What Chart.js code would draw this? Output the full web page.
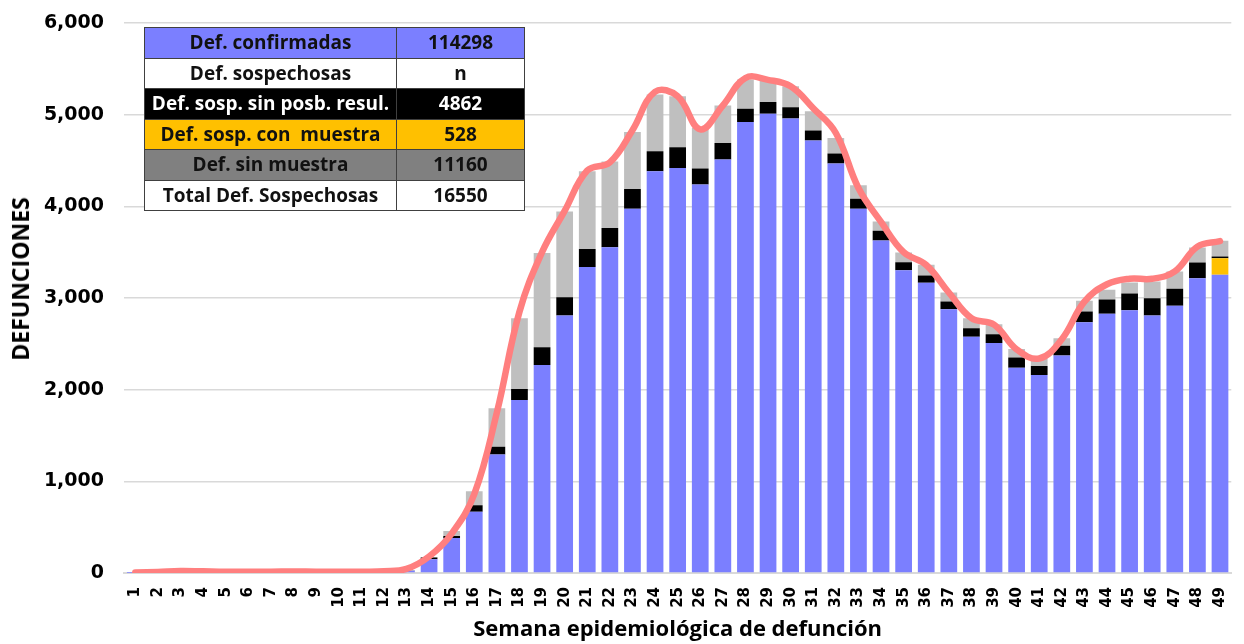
<!DOCTYPE html>
<html><head><meta charset="utf-8">
<script src="https://cdn.jsdelivr.net/npm/chart.js@4.4.0/dist/chart.umd.min.js"></script>
<style>
html,body{margin:0;padding:0;background:#fff;overflow:hidden}
#wrap{position:relative;width:1244px;height:644px}
#c{position:absolute;left:0;top:0}
#ytitle{position:absolute;left:20px;top:279px;transform:translate(-50%,-50%) rotate(-90deg);font-family:"Open Sans";font-weight:700;font-size:23px;white-space:nowrap;color:#000}
#tbl{position:absolute;left:144px;top:27px;border-collapse:collapse;font-family:"Open Sans";font-weight:700;font-size:19px;color:#111}
#tbl td{border:1px solid #404040;height:29.5px;padding:0;text-align:center;line-height:19px;white-space:nowrap}
</style>
</head><body>
<div id="wrap">
<canvas id="c" width="1244" height="644"></canvas>
<div id="ytitle">DEFUNCIONES</div>
<table id="tbl"></table>
</div>
<script>
const weeks = ['1','2','3','4','5','6','7','8','9','10','11','12','13','14','15','16','17','18','19','20','21','22','23','24','25','26','27','28','29','30','31','32','33','34','35','36','37','38','39','40','41','42','43','44','45','46','47','48','49'];
const confirmadas = [1,2,3,2,2,2,2,3,3,3,4,6,25,150,383,667,1293,1887,2270,2809,3337,3555,3975,4383,4419,4237,4510,4921,5009,4958,4718,4467,3975,3628,3304,3166,2878,2576,2510,2240,2160,2372,2736,2827,2867,2809,2915,3216,3254];
const conMuestra = [0,0,0,0,0,0,0,0,0,0,0,0,0,0,0,0,0,0,0,0,0,0,0,0,0,0,0,0,0,0,0,0,0,0,0,0,0,0,0,0,0,0,0,0,0,0,0,0,180];
const sinPosibResul = [0,0,0,0,0,0,0,0,0,0,0,0,3,20,21,73,84,121,192,200,197,210,214,218,226,175,182,143,128,124,109,109,109,106,87,80,84,94,94,110,99,106,116,157,182,189,185,172,19];
const sinMuestra = [0,0,0,0,0,0,0,0,0,0,0,0,0,5,55,153,419,771,1028,936,849,724,623,620,557,444,408,320,229,229,211,170,146,100,106,117,98,109,110,95,83,83,117,106,120,182,190,164,171];
const totalLinea = [5,12,22,18,14,14,14,16,14,14,14,18,45,180,430,860,1750,2850,3500,3950,4390,4480,4830,5250,5200,4840,5100,5400,5380,5310,5070,4800,4200,3830,3500,3360,3060,2780,2710,2440,2340,2550,2960,3150,3210,3210,3290,3560,3620];
const yTicks = [0,1000,2000,3000,4000,5000,6000];

const tablaEtiquetas = ['Def. confirmadas','Def. sospechosas','Def. sosp. sin posb. resul.','Def. sosp. con\u00a0 muestra','Def. sin muestra','Total Def. Sospechosas'];
const tablaValores = ['114298','n','4862','528','11160','16550'];
const tablaFondos = ['#7B7FFF','#FFFFFF','#000000','#FFC000','#808080','#FFFFFF'];
const tablaTexto = ['#111','#111','#FFF','#111','#111','#111'];

const tbl = document.getElementById('tbl');
tablaEtiquetas.forEach((t,i)=>{
  const tr = document.createElement('tr');
  const a = document.createElement('td'); a.textContent = t; a.style.width='251px';
  const b = document.createElement('td'); b.textContent = tablaValores[i]; b.style.width='127px';
  [a,b].forEach(td=>{td.style.background=tablaFondos[i]; td.style.color=tablaTexto[i];});
  tr.appendChild(a); tr.appendChild(b); tbl.appendChild(tr);
});

new Chart(document.getElementById('c'), {
  type: 'bar',
  data: {
    labels: weeks,
    datasets: [
      {type:'line', label:'Total', data: totalLinea, borderColor:'#FF7F7F', borderWidth:6.5, pointRadius:0, tension:0.4, fill:false, stack:'linea', order:0, borderCapStyle:'round'},
      {label:'Def. confirmadas', data: confirmadas, backgroundColor:'#7B7FFF', stack:'a', order:1},
      {label:'Def. sosp. con muestra', data: conMuestra, backgroundColor:'#FFC000', stack:'a', order:1},
      {label:'Def. sosp. sin posb. resul.', data: sinPosibResul, backgroundColor:'#000000', stack:'a', order:1},
      {label:'Def. sin muestra', data: sinMuestra, backgroundColor:'#BFBFBF', stack:'a', order:1}
    ]
  },
  options: {
    responsive:false, animation:false, devicePixelRatio:1,
    layout:{padding:{top:23,right:0,left:0,bottom:0}},
    datasets:{bar:{barPercentage:0.74, categoryPercentage:1}},
    plugins:{legend:{display:false}, tooltip:{enabled:false}},
    scales:{
      x:{
        stacked:true,
        grid:{display:false},
        border:{color:'#D9D9D9', width:2},
        ticks:{autoSkip:false, minRotation:90, maxRotation:90, padding:6, color:'#000', font:{family:'DejaVu Sans', weight:'bold', size:15}},
        title:{display:true, text:'Semana epidemiológica de defunción', color:'#000', font:{family:'Open Sans', weight:'700', size:22}, padding:{top:0,bottom:1}},
        afterFit:(s)=>{s.height = 71;}
      },
      y:{
        stacked:true, min:0, max:6000,
        afterBuildTicks:(s)=>{s.ticks = yTicks.map(v=>({value:v}));},
        grid:{color:'#D9D9D9', lineWidth:1.5, drawTicks:true, tickLength:18, tickColor:'rgba(0,0,0,0)'},
        border:{display:false},
        ticks:{padding:2, color:'#000', font:{family:'DejaVu Sans', weight:'bold', size:19}, callback:(v)=>v.toLocaleString('en-US')},
        afterFit:(s)=>{s.width = 124;}
      }
    }
  }
});
</script>
</body></html>
